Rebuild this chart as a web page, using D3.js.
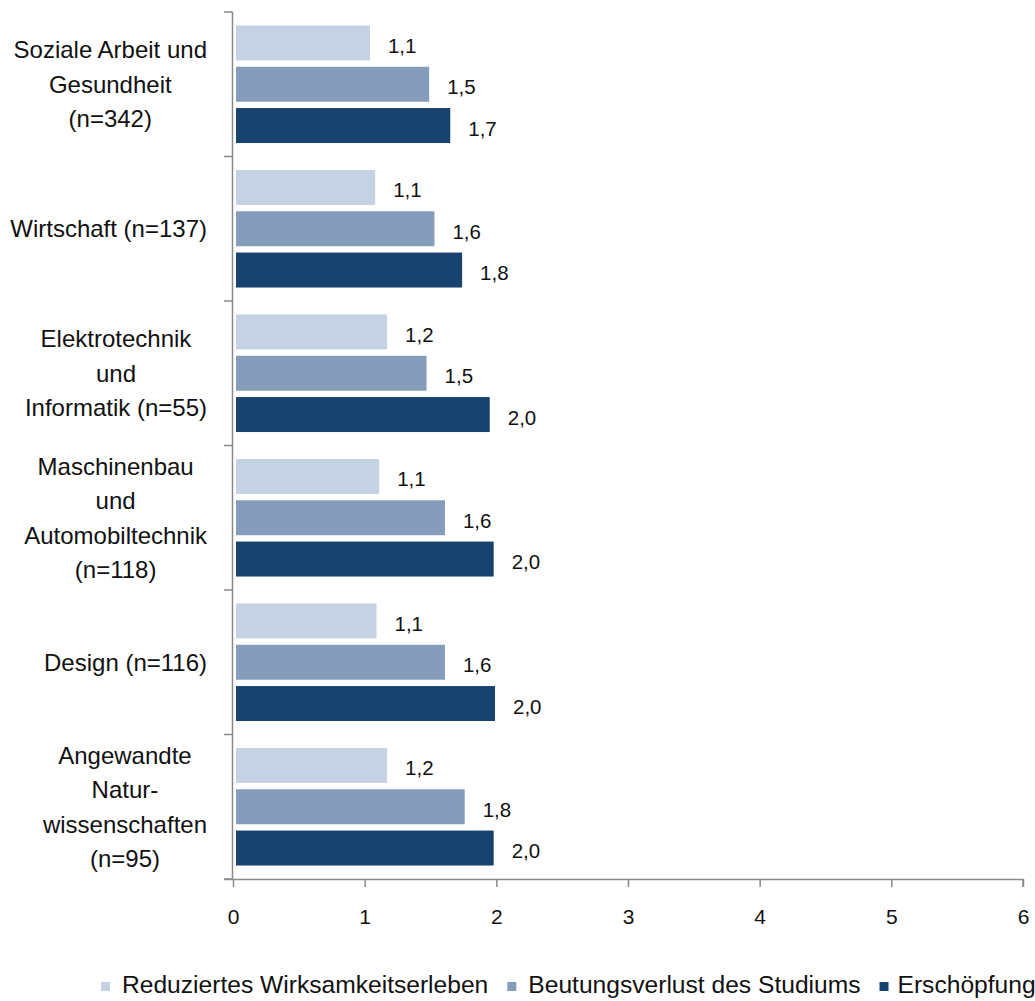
<!DOCTYPE html>
<html>
<head>
<meta charset="utf-8">
<script src="https://cdn.jsdelivr.net/npm/d3@7"></script>
<style>
  html, body { margin: 0; padding: 0; background: #fff; }
  svg { display: block; font-family: "Liberation Sans", Arial, sans-serif; }
</style>
</head>
<body>
<svg id="chart" width="1035" height="1001"></svg>
<script>
// ---- data ----
const categories = [
  ["Soziale Arbeit und", "Gesundheit", "(n=342)"],
  ["Wirtschaft (n=137)"],
  ["Elektrotechnik", "und", "Informatik (n=55)"],
  ["Maschinenbau", "und", "Automobiltechnik", "(n=118)"],
  ["Design (n=116)"],
  ["Angewandte", "Natur-", "wissenschaften", "(n=95)"]
];
const seriesNames = ["Reduziertes Wirksamkeitserleben", "Beutungsverlust des Studiums", "Erschöpfung"];
const wirksamkeit = [1.04, 1.08, 1.17, 1.11, 1.09, 1.17];
const bedeutung   = [1.49, 1.53, 1.47, 1.61, 1.61, 1.76];
const erschoepfung = [1.65, 1.74, 1.95, 1.98, 1.99, 1.98];
const wirksamkeitLabels = ["1,1", "1,1", "1,2", "1,1", "1,1", "1,2"];
const bedeutungLabels   = ["1,5", "1,6", "1,5", "1,6", "1,6", "1,8"];
const erschoepfungLabels = ["1,7", "1,8", "2,0", "2,0", "2,0", "2,0"];
const xTicks = [0, 1, 2, 3, 4, 5, 6];
const colors = ["#C5D2E3", "#859DBB", "#19436F"];

// ---- layout ----
const svg = d3.select("#chart");
const x = d3.scaleLinear().domain([0, 6]).range([233, 1023]);
const y0 = d3.scaleBand().domain(d3.range(categories.length)).range([12, 879]).padding(0);
const y1 = d3.scaleBand().domain(d3.range(3)).range([0, y0.bandwidth()])
  .paddingInner(0.153).paddingOuter(0.326);
const axisColor = "#898989";
const barGap = 3;

const series = [
  { name: seriesNames[0], values: wirksamkeit, labels: wirksamkeitLabels, color: colors[0] },
  { name: seriesNames[1], values: bedeutung, labels: bedeutungLabels, color: colors[1] },
  { name: seriesNames[2], values: erschoepfung, labels: erschoepfungLabels, color: colors[2] }
];

// bars
const groups = svg.append("g").selectAll("g")
  .data(categories.map((c, i) => i))
  .join("g")
  .attr("transform", i => `translate(0,${y0(i)})`);

series.forEach((s, si) => {
  groups.append("rect")
    .attr("x", x(0) + barGap)
    .attr("y", y1(si))
    .attr("width", i => x(s.values[i]) - x(0) - barGap)
    .attr("height", y1.bandwidth())
    .attr("fill", s.color);
  groups.append("text")
    .attr("x", i => x(s.values[i]) + 18)
    .attr("y", y1(si) + y1.bandwidth() / 2 + 10)
    .attr("font-size", 20.5)
    .attr("fill", "#111")
    .text(i => s.labels[i]);
});

// y axis
const yAxisG = svg.append("g");
yAxisG.append("line")
  .attr("x1", 232.5).attr("x2", 232.5)
  .attr("y1", y0.range()[0]).attr("y2", y0.range()[1])
  .attr("stroke", axisColor).attr("stroke-width", 1.5);
const boundaries = d3.range(categories.length).map(i => y0(i)).concat([y0.range()[1]]);
yAxisG.selectAll("line.tick").data(boundaries).join("line")
  .attr("class", "tick")
  .attr("x1", 224).attr("x2", 232.5)
  .attr("y1", d => d).attr("y2", d => d)
  .attr("stroke", axisColor).attr("stroke-width", 1.5);

// x axis
const xAxis = d3.axisBottom(x).tickValues(xTicks).tickSize(8).tickPadding(22)
  .tickFormat(d => String(d));
const xg = svg.append("g").attr("transform", `translate(0,${y0.range()[1]})`).call(xAxis);
xg.select(".domain").attr("stroke", axisColor).attr("stroke-width", 1.5)
  .attr("d", `M224,0.5H${x(6)}V8`);
xg.selectAll(".tick line").attr("stroke", axisColor).attr("stroke-width", 1.5);
xg.selectAll(".tick text").attr("font-size", 21).attr("fill", "#111")
  .attr("font-family", "Liberation Sans, Arial, sans-serif");

// category labels
const lineH = 34.5;
categories.forEach((lines, i) => {
  const g = svg.append("g");
  const cy = y0(i) + y0.bandwidth() / 2;
  const texts = g.selectAll("text").data(lines).join("text")
    .attr("font-size", 24)
    .attr("fill", "#111")
    .attr("text-anchor", "middle")
    .attr("y", (d, k) => cy + (k - (lines.length - 1) / 2) * lineH + 8.5)
    .text(d => d);
  let maxW = 0;
  texts.each(function () { maxW = Math.max(maxW, this.getComputedTextLength()); });
  texts.attr("x", 207 - maxW / 2);
});

// legend
const legend = svg.append("g");
let lx = 101;
series.forEach((s, k) => {
  legend.append("rect")
    .attr("x", lx).attr("y", 982).attr("width", 9).attr("height", 9)
    .attr("fill", s.color);
  const t = legend.append("text")
    .attr("x", lx + (k === 2 ? 18 : 21)).attr("y", 993)
    .attr("font-size", 24.6).attr("fill", "#111")
    .text(s.name);
  lx = lx + (k === 2 ? 18 : 21) + t.node().getComputedTextLength() + 19;
});
</script>
</body>
</html>
